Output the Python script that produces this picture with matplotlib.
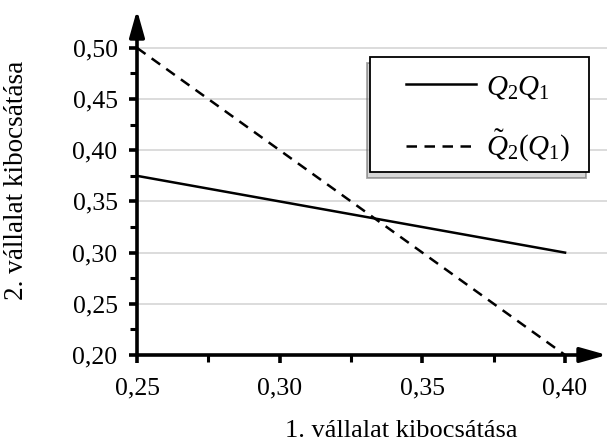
import matplotlib
matplotlib.use("Agg")
import matplotlib.pyplot as plt
from matplotlib.patches import Rectangle, Shadow
import numpy as np

plt.rcParams['font.family'] = ['Liberation Serif', 'DejaVu Serif']
plt.rcParams['mathtext.fontset'] = 'custom'
plt.rcParams['mathtext.rm'] = 'Liberation Serif'
plt.rcParams['mathtext.it'] = 'Liberation Serif:italic'

# data
q1 = [0.25, 0.40]
reaction = [0.375, 0.30]       # Q2Q1
reaction_tilde = [0.50, 0.20]  # tilde Q2(Q1)
xticks = [0.25, 0.30, 0.35, 0.40]
yticks = [0.20, 0.25, 0.30, 0.35, 0.40, 0.45, 0.50]
xlabel = "1. vállalat kibocsátása"
ylabel = "2. vállalat kibocsátása"

W, H = 611, 445
fig = plt.figure(figsize=(W/100, H/100), dpi=100)
ax = fig.add_axes([137/W, 90/H, 470/W, 345/H])

ax.set_xlim(0.25, 0.4147)
ax.set_ylim(0.20, 0.537)

ax.plot(q1, reaction, color='black', lw=1.8, label=r'$Q_2Q_1$', zorder=3)
ax.plot(q1, reaction_tilde, color='black', lw=1.8, ls=(0, (4.2, 3.0)),
        label=r'$\tilde{Q}_2(Q_1)$', zorder=3)

for y in yticks[1:]:
    ax.axhline(y, color='#d9d9d9', lw=1.3, zorder=0)

ax.set_xticks(xticks)
ax.set_xticklabels([f"{v:.2f}".replace('.', ',') for v in xticks])
ax.set_yticks(yticks)
ax.set_yticklabels([f"{v:.2f}".replace('.', ',') for v in yticks])
ax.set_xticks([0.275, 0.325, 0.375], minor=True)
ax.set_yticks([0.225, 0.275, 0.325, 0.375, 0.425, 0.475], minor=True)
ax.tick_params(axis='both', which='major', labelsize=18.5, length=6, width=2.6,
               direction='out', color='black')
ax.tick_params(axis='both', which='minor', length=5, width=2.2, direction='out')
ax.tick_params(axis='x', pad=10)
ax.tick_params(axis='y', pad=8)

for s in ['top', 'right', 'left', 'bottom']:
    ax.spines[s].set_visible(False)

arrow = dict(arrowstyle='-|>,head_length=1.6,head_width=0.45', lw=2.6,
             color='black', shrinkA=0, shrinkB=0, mutation_scale=10)
ax.annotate('', xy=(1, 0), xytext=(0, 0), xycoords='axes fraction',
            arrowprops=arrow, annotation_clip=False, zorder=5)
ax.annotate('', xy=(0, 1), xytext=(0, 0), xycoords='axes fraction',
            arrowprops=arrow, annotation_clip=False, zorder=5)

fig.text(401/W, 1 - 431/H, xlabel, ha='center', va='center', fontsize=19)
fig.text(17/W, 1 - 180/H, ylabel, ha='center', va='center', fontsize=19.5,
         rotation=90)

# legend frame drawn manually
lx0, ly0, lx1, ly1 = 370, 57, 589, 172
rect = Rectangle((lx0/W, 1 - ly1/H), (lx1-lx0)/W, (ly1-ly0)/H,
                 transform=fig.transFigure, facecolor='white',
                 edgecolor='black', lw=1.3, zorder=10)
shadow = Shadow(rect, -2/W, -4/H, facecolor='#b0b0b0', alpha=0.5, zorder=9)
shadow.set_transform(fig.transFigure)
fig.patches.append(shadow)
fig.patches.append(rect)

leg = fig.legend(loc='center left', bbox_to_anchor=(406/W, 1 - 119/H),
                 bbox_transform=fig.transFigure, fontsize=21, frameon=False,
                 handlelength=2.4, borderpad=0, labelspacing=0.95,
                 handletextpad=0.35, borderaxespad=0)
leg.set_zorder(11)

fig.savefig('out.png', dpi=100)
